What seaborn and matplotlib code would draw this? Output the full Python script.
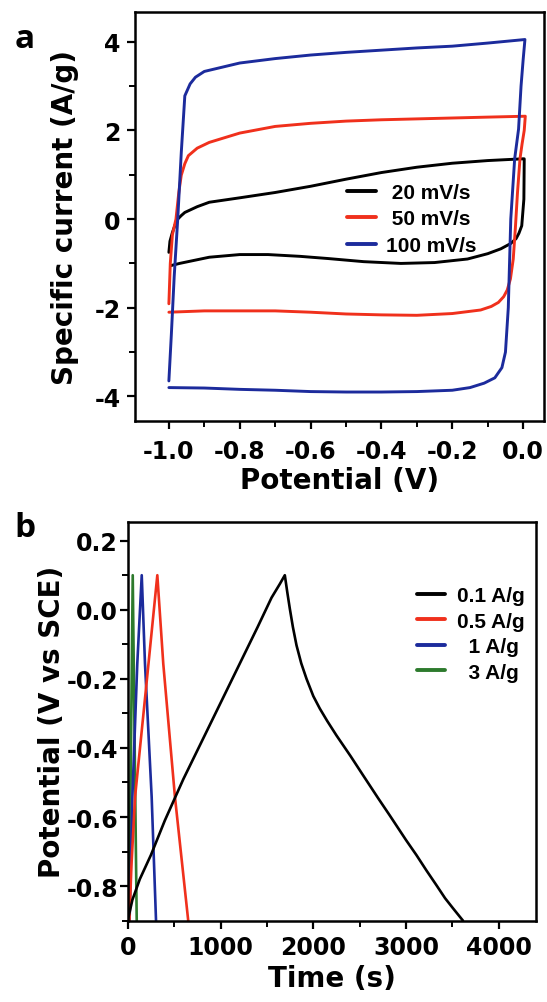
import matplotlib
matplotlib.use("Agg")
import matplotlib.pyplot as plt
from matplotlib.lines import Line2D
from matplotlib.ticker import MultipleLocator, FormatStrFormatter
import pandas as pd
import seaborn as sns

# ---------------- Panel a: cyclic voltammetry ----------------
cv_rates = ["20 mV/s", "50 mV/s", "100 mV/s"]
cv_legend_labels = [" 20 mV/s", " 50 mV/s", "100 mV/s"]

cv20_x = [-1.0, -0.997, -0.99, -0.982, -0.975, -0.965, -0.955, -0.92, -0.886, -0.8, -0.7,
          -0.6, -0.5, -0.4, -0.3, -0.2, -0.1, 0.0, 0.003, 0.002, -0.004, -0.012, -0.02,
          -0.035, -0.063, -0.1, -0.157, -0.25, -0.345, -0.45, -0.55, -0.63, -0.72, -0.8,
          -0.886, -0.94, -0.97, -0.995]
cv20_y = [-0.75, -0.5, -0.3, -0.12, 0.0, 0.08, 0.15, 0.28, 0.38, 0.48, 0.6,
          0.74, 0.9, 1.05, 1.17, 1.26, 1.32, 1.36, 1.36, 0.45, -0.15, -0.32, -0.44,
          -0.55, -0.67, -0.78, -0.9, -0.98, -1.0, -0.96, -0.89, -0.84, -0.8, -0.8,
          -0.86, -0.95, -1.0, -1.05]

cv50_x = [-1.0, -0.996, -0.99, -0.98, -0.972, -0.965, -0.955, -0.945, -0.92, -0.886, -0.8,
          -0.7, -0.6, -0.5, -0.4, -0.3, -0.2, -0.1, 0.006, 0.003, -0.003, -0.009, -0.016,
          -0.022, -0.028, -0.036, -0.045, -0.055, -0.07, -0.09, -0.12, -0.2, -0.3, -0.4,
          -0.5, -0.6, -0.7, -0.8, -0.9, -1.0]
cv50_y = [-1.91, -1.0, -0.35, 0.0, 0.6, 0.99, 1.25, 1.43, 1.6, 1.73, 1.94,
          2.09, 2.16, 2.21, 2.24, 2.26, 2.28, 2.3, 2.32, 2.0, 1.7, 1.36, 0.6,
          -0.2, -0.9, -1.35, -1.6, -1.75, -1.88, -1.97, -2.05, -2.13, -2.17, -2.16,
          -2.14, -2.1, -2.07, -2.07, -2.07, -2.1]

cv100_x = [-1.0, -0.993, -0.985, -0.975, -0.965, -0.955, -0.94, -0.925, -0.9, -0.8, -0.7,
           -0.6, -0.5, -0.4, -0.3, -0.2, -0.1, 0.005, 0.0, -0.006, -0.013, -0.024, -0.035,
           -0.042, -0.05, -0.06, -0.08, -0.11, -0.15, -0.2, -0.3, -0.4, -0.5, -0.6, -0.7,
           -0.8, -0.9, -1.0]
cv100_y = [-3.65, -2.6, -1.3, 0.0, 1.5, 2.78, 3.05, 3.2, 3.33, 3.52, 3.62,
           3.7, 3.76, 3.81, 3.86, 3.9, 3.97, 4.05, 3.6, 3.0, 2.03, 1.36, 0.0,
           -2.0, -3.0, -3.35, -3.58, -3.7, -3.8, -3.86, -3.89, -3.9, -3.9, -3.89, -3.86,
           -3.84, -3.81, -3.8]

cv_colors = ["#000000", "#f0301c", "#1c2b9c"]

# ---------------- Panel b: galvanostatic charge/discharge ----------------
gcd_rates = ["0.1 A/g", "0.5 A/g", "1 A/g", "3 A/g"]
gcd_legend_labels = ["0.1 A/g", "0.5 A/g", "  1 A/g", "  3 A/g"]

gcd01_t = [0, 50, 130, 250, 400, 600, 800, 1000, 1200, 1400, 1550, 1640, 1693,
           1720, 1747, 1780, 1819, 1870, 1927, 2000, 2070, 2150, 2250, 2400, 2536,
           2700, 2823, 3000, 3111, 3220, 3326, 3420, 3505, 3613]
gcd01_v = [-0.9, -0.84, -0.78, -0.71, -0.61, -0.49, -0.38, -0.27, -0.16, -0.05, 0.035, 0.075, 0.1,
           0.05, 0.003, -0.05, -0.103, -0.155, -0.2, -0.25, -0.286, -0.322, -0.364, -0.423, -0.479,
           -0.546, -0.595, -0.667, -0.71, -0.755, -0.797, -0.835, -0.864, -0.9]

gcd05_t = [18, 40, 79, 200, 319, 383, 509, 652]
gcd05_v = [-0.9, -0.74, -0.542, -0.22, 0.1, -0.156, -0.542, -0.9]

gcd1_t = [20, 50, 103, 151, 186, 258, 305]
gcd1_v = [-0.9, -0.542, -0.156, 0.1, -0.156, -0.542, -0.9]

gcd3_t = [15, 33, 54, 75, 97]
gcd3_v = [-0.9, -0.45, 0.1, -0.4, -0.9]

gcd_colors = ["#000000", "#f0301c", "#1c2b9c", "#2d7a2d"]

# ---------------- Style ----------------
sns.set_theme(style="ticks")
plt.rcParams["font.family"] = ["DejaVu Sans"]
plt.rcParams["font.weight"] = "bold"
plt.rcParams["axes.labelweight"] = "bold"
plt.rcParams["axes.unicode_minus"] = False
plt.rcParams["text.color"] = "black"
plt.rcParams["axes.labelcolor"] = "black"
plt.rcParams["xtick.color"] = "black"
plt.rcParams["ytick.color"] = "black"
plt.rcParams["axes.edgecolor"] = "black"

fig = plt.figure(figsize=(5.47, 10.03), dpi=100)
ax_a = fig.add_axes([0.2459, 0.5796, 0.7481, 0.4071])
ax_b = fig.add_axes([0.2335, 0.0811, 0.7464, 0.3978])

cv_df = pd.concat([
    pd.DataFrame({"Potential": cv20_x, "Current": cv20_y, "rate": cv_rates[0]}),
    pd.DataFrame({"Potential": cv50_x, "Current": cv50_y, "rate": cv_rates[1]}),
    pd.DataFrame({"Potential": cv100_x, "Current": cv100_y, "rate": cv_rates[2]}),
], ignore_index=True)
gcd_df = pd.concat([
    pd.DataFrame({"Time": gcd01_t, "V": gcd01_v, "rate": gcd_rates[0]}),
    pd.DataFrame({"Time": gcd05_t, "V": gcd05_v, "rate": gcd_rates[1]}),
    pd.DataFrame({"Time": gcd1_t, "V": gcd1_v, "rate": gcd_rates[2]}),
    pd.DataFrame({"Time": gcd3_t, "V": gcd3_v, "rate": gcd_rates[3]}),
], ignore_index=True)

cv_pal = dict(zip(cv_rates, cv_colors))
gcd_pal = dict(zip(gcd_rates, gcd_colors))

sns.lineplot(data=cv_df, x="Potential", y="Current", hue="rate", hue_order=cv_rates,
             palette=cv_pal, sort=False, estimator=None, linewidth=2.1, legend=False, ax=ax_a)
sns.lineplot(data=gcd_df, x="Time", y="V", hue="rate", hue_order=gcd_rates[::-1],
             palette=gcd_pal, sort=False, estimator=None, linewidth=1.9, legend=False, ax=ax_b)

tick_fs = 17
label_fs = 20

for ax in (ax_a, ax_b):
    for sp in ax.spines.values():
        sp.set_linewidth(1.8)
        sp.set_color("black")
    ax.tick_params(which="major", direction="out", length=6, width=1.6, pad=4,
                   labelsize=tick_fs, top=False, right=False, colors="black")
    ax.tick_params(which="minor", direction="out", length=4, width=1.4,
                   top=False, right=False, colors="black")
    for lab in ax.get_xticklabels() + ax.get_yticklabels():
        lab.set_fontweight("bold")

# Panel a axes
ax_a.set_xlim(-1.097, 0.058)
ax_a.set_ylim(-4.546, 4.663)
ax_a.xaxis.set_major_locator(MultipleLocator(0.2))
ax_a.xaxis.set_minor_locator(MultipleLocator(0.1))
ax_a.yaxis.set_major_locator(MultipleLocator(2))
ax_a.yaxis.set_minor_locator(MultipleLocator(1))
ax_a.xaxis.set_major_formatter(FormatStrFormatter("%.1f"))
ax_a.yaxis.set_major_formatter(FormatStrFormatter("%d"))
ax_a.tick_params(axis="x", which="major", pad=7)
ax_a.set_xlabel("Potential (V)", fontsize=label_fs, fontweight="bold", color="black")
ax_a.set_ylabel("Specific current (A/g)", fontsize=label_fs, fontweight="bold", color="black")
ax_a.xaxis.set_label_coords(0.5, -0.112)
ax_a.yaxis.set_label_coords(-0.135, 0.5)

# Panel b axes
ax_b.set_xlim(0, 4400)
ax_b.set_ylim(-0.9, 0.255)
ax_b.xaxis.set_major_locator(MultipleLocator(1000))
ax_b.xaxis.set_minor_locator(MultipleLocator(500))
ax_b.yaxis.set_major_locator(MultipleLocator(0.2))
ax_b.yaxis.set_minor_locator(MultipleLocator(0.1))
ax_b.yaxis.set_major_formatter(FormatStrFormatter("%.1f"))
ax_b.tick_params(axis="y", which="major", pad=1)
ax_b.set_xlabel("Time (s)", fontsize=label_fs, fontweight="bold", color="black")
ax_b.set_ylabel("Potential (V vs SCE)", fontsize=label_fs, fontweight="bold", color="black")
ax_b.xaxis.set_label_coords(0.5, -0.108)
ax_b.yaxis.set_label_coords(-0.152, 0.5)

# Legends
leg_font = {"family": "Liberation Sans", "weight": "bold", "size": 15}
h_a = [Line2D([], [], color=c, lw=2.8) for c in cv_colors]
leg_a = ax_a.legend(h_a, cv_legend_labels, loc="center left", bbox_to_anchor=(0.519, 0.494),
                    frameon=False, prop=leg_font, handlelength=1.4, handletextpad=0.5,
                    labelspacing=0.36, borderpad=0, borderaxespad=0, labelcolor="black")
h_b = [Line2D([], [], color=c, lw=2.8) for c in gcd_colors]
leg_b = ax_b.legend(h_b, gcd_legend_labels, loc="center left", bbox_to_anchor=(0.708, 0.7186),
                    frameon=False, prop=leg_font, handlelength=1.36, handletextpad=0.56,
                    labelspacing=0.31, borderpad=0, borderaxespad=0, labelcolor="black")

# Panel letters
fig.text(15 / 547, 1 - 48 / 1003, "a", fontfamily="Open Sans", fontweight="bold",
         fontsize=24, va="baseline", ha="left", color="black")
fig.text(14 / 547, 1 - 537 / 1003, "b", fontfamily="Open Sans", fontweight="bold",
         fontsize=24, va="baseline", ha="left", color="black")

fig.savefig("out.png", dpi=100)
